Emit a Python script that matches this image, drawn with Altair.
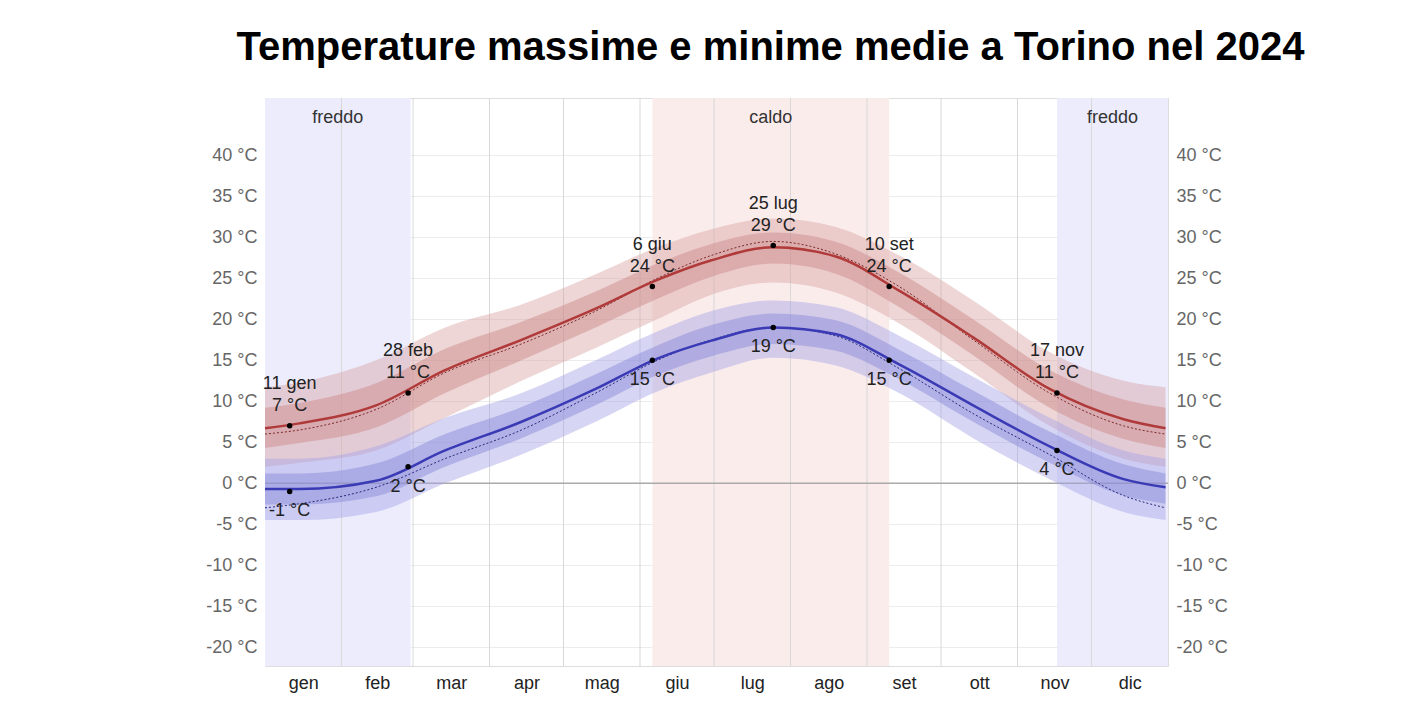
import pandas as pd
import altair as alt

giorni = [1, 15, 46, 74, 105, 135, 160, 182, 207, 232, 258, 288, 319, 349, 366]
max_media = [6.7, 7.3, 9.5, 13.8, 17.5, 21.3, 24.8, 27.2, 28.8, 27.7, 23.5, 17.8, 11.5, 7.8, 6.7]
max_p90 = [11.7, 12.3, 15.0, 19.0, 21.8, 25.5, 28.8, 31.0, 32.3, 31.3, 27.8, 22.3, 16.0, 12.5, 11.7]
max_p75 = [9.2, 9.8, 12.2, 16.4, 19.7, 23.4, 26.8, 29.2, 30.6, 29.5, 25.7, 20.0, 13.8, 10.2, 9.2]
max_p25 = [4.3, 4.9, 6.8, 11.0, 15.0, 19.0, 22.5, 25.2, 26.8, 25.6, 21.5, 15.6, 9.2, 5.4, 4.3]
max_p10 = [2.0, 2.5, 4.0, 8.0, 12.5, 16.5, 20.0, 23.0, 24.5, 23.3, 19.5, 13.5, 7.0, 3.0, 2.0]
max_2024 = [6.0, 6.5, 9.0, 13.5, 17.0, 21.0, 25.0, 27.8, 29.5, 28.0, 24.0, 17.5, 11.0, 7.0, 6.0]

min_media = [-0.7, -0.7, 0.3, 4.0, 7.5, 11.5, 15.2, 17.4, 19.0, 18.2, 14.5, 9.5, 4.5, 0.5, -0.5]
min_p90 = [3.0, 3.0, 4.5, 8.0, 11.0, 15.0, 18.5, 21.0, 22.3, 21.5, 18.0, 13.0, 8.0, 4.0, 3.0]
min_p75 = [1.2, 1.2, 2.4, 6.0, 9.3, 13.3, 16.8, 19.3, 20.7, 19.9, 16.3, 11.3, 6.3, 2.3, 1.2]
min_p25 = [-2.6, -2.6, -1.6, 2.0, 5.5, 9.5, 13.2, 15.5, 17.0, 16.2, 12.7, 7.5, 2.5, -1.5, -2.5]
min_p10 = [-4.5, -4.5, -3.5, 0.0, 3.5, 7.5, 11.2, 13.5, 15.3, 14.4, 11.0, 5.5, 0.5, -3.5, -4.5]
min_2024 = [-3.0, -2.5, -0.5, 3.0, 6.5, 11.0, 15.0, 17.5, 19.0, 18.0, 14.0, 8.5, 3.5, -1.5, -3.0]

mesi = ["gen", "feb", "mar", "apr", "mag", "giu", "lug", "ago", "set", "ott", "nov", "dic"]
inizio_mese = [1, 32, 61, 92, 122, 153, 183, 214, 245, 275, 306, 336, 367]

stagioni = ["freddo", "caldo", "freddo"]
stagioni_da = [1, 158, 322]
stagioni_a = [60, 254, 367]
stagioni_col = ["#ececfd", "#fbecec", "#ececfd"]

punti_giorno = [11, 59, 158, 207, 254, 322]
punti_data = ["11 gen", "28 feb", "6 giu", "25 lug", "10 set", "17 nov"]
punti_max = [7, 11, 24, 29, 24, 11]
punti_min = [-1, 2, 15, 19, 15, 4]

df = pd.DataFrame({
    "giorno": giorni, "max_media": max_media, "max_p90": max_p90, "max_p75": max_p75,
    "max_p25": max_p25, "max_p10": max_p10, "max_2024": max_2024,
    "min_media": min_media, "min_p90": min_p90, "min_p75": min_p75,
    "min_p25": min_p25, "min_p10": min_p10, "min_2024": min_2024,
})
st = pd.DataFrame({"nome": stagioni, "da": stagioni_da, "a": stagioni_a, "col": stagioni_col})
st["mid"] = (st["da"] + st["a"]) / 2
pt = pd.DataFrame({"giorno": punti_giorno, "data": punti_data, "tmax": punti_max, "tmin": punti_min})
pt["lmax"] = pt["tmax"].astype(str) + " °C"
pt["lmin"] = pt["tmin"].astype(str) + " °C"

DOM_Y = [-22.3, 47]
xs = alt.Scale(domain=[1, 367], nice=False, zero=False)
ys = alt.Scale(domain=DOM_Y, nice=False, zero=False)
mid_mesi = [(inizio_mese[i] + inizio_mese[i + 1]) / 2 for i in range(12)]
label_expr = " : ".join(
    f"datum.value < {inizio_mese[i+1]} ? '{mesi[i]}'" for i in range(11)) + " : 'dic'"

asse_x = alt.Axis(values=mid_mesi, labelExpr=label_expr, grid=False, ticks=False,
                  domain=False, labelFontSize=18, labelColor="#222", labelPadding=8)
Xf = lambda c: alt.X(c, scale=xs, title=None, axis=asse_x)
Xn = Xf("giorno:Q")
Yn = lambda c: alt.Y(c, scale=ys, axis=None)

bande = alt.Chart(st).mark_rect().encode(
    x=Xf("da:Q"), x2="a:Q",
    y=alt.value(0), y2=alt.value(568),
    color=alt.Color("col:N", scale=None))
bande_txt = alt.Chart(st).mark_text(fontSize=18, color="#333").encode(
    x=Xf("mid:Q"), y=alt.value(20), text="nome:N")
mesi_rule = alt.Chart(pd.DataFrame({"g": inizio_mese[1:-1]})).mark_rule(color="#d8d8d8").encode(
    x=Xf("g:Q"), y=alt.value(0), y2=alt.value(568))

base = alt.Chart(df)
asse_sx = base.mark_point(opacity=0).encode(
    x=Xn, y=alt.Y("max_media:Q", scale=ys, title=None,
                  axis=alt.Axis(values=list(range(-20, 41, 5)), labelExpr="datum.value + ' °C'",
                                domain=False, ticks=False, labelFontSize=18, labelColor="#666",
                                gridColor="#ececec", labelPadding=8)))
asse_dx = base.mark_point(opacity=0).encode(
    x=Xn, y=alt.Y("min_media:Q", scale=ys, title=None,
                  axis=alt.Axis(orient="right", values=list(range(-20, 41, 5)),
                                labelExpr="datum.value + ' °C'", domain=False, ticks=False,
                                grid=False, labelFontSize=18, labelColor="#666", labelPadding=8)))
zero = alt.Chart(pd.DataFrame({"y": [0]})).mark_rule(color="#aaa", strokeWidth=1.5).encode(
    y=Yn("y:Q"), x=alt.value(0), x2=alt.value(903))

def area(lo, hi, col, op):
    return base.mark_area(color=col, opacity=op, interpolate="monotone").encode(
        x=Xn, y=Yn(f"{lo}:Q"), y2=f"{hi}:Q")

def linea(c, col, w, dash=None):
    kw = {"strokeDash": dash} if dash else {}
    return base.mark_line(color=col, strokeWidth=w, interpolate="monotone", **kw).encode(
        x=Xn, y=Yn(f"{c}:Q"))

pb = alt.Chart(pt)
strati = [
    bande, mesi_rule, asse_sx, asse_dx, zero,
    area("max_p10", "max_p90", "#d9a5a5", 0.45), area("max_p25", "max_p75", "#c98484", 0.45),
    area("min_p10", "min_p90", "#a5a5e6", 0.45), area("min_p25", "min_p75", "#8484d6", 0.45),
    linea("max_2024", "#7a2a2a", 1, [2, 2]), linea("min_2024", "#2a2a7a", 1, [2, 2]),
    linea("max_media", "#b03a3a", 2.5), linea("min_media", "#3a3ab5", 2.5),
    bande_txt,
    pb.mark_circle(color="black", size=30, opacity=1).encode(x=Xn, y=Yn("tmax:Q")),
    pb.mark_circle(color="black", size=30, opacity=1).encode(x=Xn, y=Yn("tmin:Q")),
    pb.mark_text(fontSize=18, dy=-20, color="#222").encode(x=Xn, y=Yn("tmax:Q"), text="lmax:N"),
    pb.mark_text(fontSize=18, dy=-42, color="#222").encode(x=Xn, y=Yn("tmax:Q"), text="data:N"),
    pb.mark_text(fontSize=18, dy=20, color="#222").encode(x=Xn, y=Yn("tmin:Q"), text="lmin:N"),
]

chart = alt.layer(*strati).resolve_scale(y="independent").properties(
    width=903, height=568,
    autosize=alt.AutoSizeParams(type="none"),
    padding={"left": 257, "top": 90, "right": 241, "bottom": 43},
    title=alt.TitleParams("Temperature massime e minime medie a Torino nel 2024",
                          fontSize=40, font="Liberation Sans", fontWeight="bold",
                          color="black", offset=30, dx=54),
).configure_view(stroke=None).configure(font="Liberation Sans")

chart.save("out.html", embed_options={"renderer": "svg", "actions": False})
